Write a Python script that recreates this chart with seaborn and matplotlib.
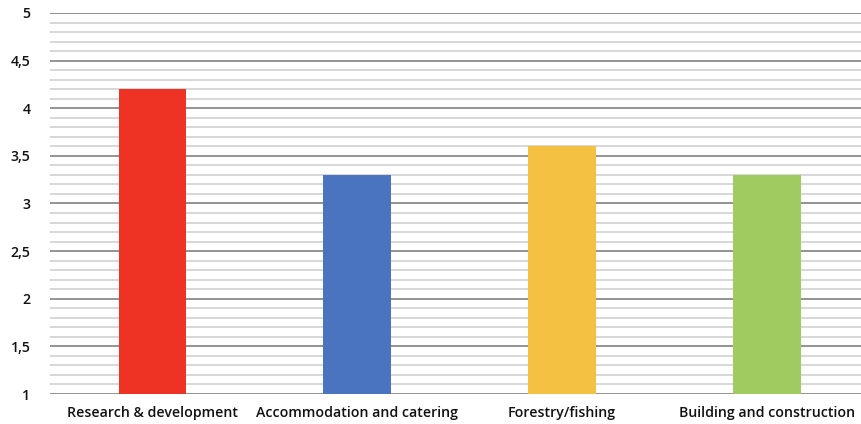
import matplotlib
matplotlib.use("Agg")
import matplotlib.pyplot as plt
from matplotlib.ticker import MultipleLocator, FuncFormatter
import seaborn as sns
import pandas as pd

categories = ["Research & development", "Accommodation and catering",
              "Forestry/fishing", "Building and construction"]
values = [4.2, 3.3, 3.6, 3.3]
colors = ["#EE3224", "#4A73C0", "#F5C142", "#A0CB61"]

sns.set_style("white")
plt.rcParams["font.family"] = ["Open Sans", "DejaVu Sans"]

df = pd.DataFrame({"category": categories, "value": values})

fig = plt.figure(figsize=(8.61, 4.24), dpi=100)
ax = fig.add_axes([50 / 861, 1 - 394 / 424, 811 / 861, 381 / 424])

sns.barplot(data=df, x="category", y="value", hue="category", palette=colors,
            width=0.33, saturation=1, legend=False, ax=ax, zorder=3,
            linewidth=0)
# bars start from the axis floor at 1
for patch, v in zip(ax.patches, values):
    patch.set_y(1)
    patch.set_height(v - 1)

ax.set_ylim(1, 5)
ax.set_xlim(-0.5, 3.46)
ax.yaxis.set_major_locator(MultipleLocator(0.5))
ax.yaxis.set_minor_locator(MultipleLocator(0.1))
ax.yaxis.set_major_formatter(FuncFormatter(lambda v, p: f"{v:g}".replace(".", ",")))
ax.grid(which="major", axis="y", color="#8a8a8a", linewidth=1.3, zorder=0)
ax.grid(which="minor", axis="y", color="#d4d4d4", linewidth=1.3, zorder=0)
ax.set_axisbelow(True)
for s in ax.spines.values():
    s.set_visible(False)
ax.tick_params(axis="both", which="both", length=0, labelcolor="#111111")
ax.tick_params(axis="y", pad=14, labelsize=10.2)
ax.tick_params(axis="x", pad=9, labelsize=10.2)
for lbl in ax.get_xticklabels() + ax.get_yticklabels():
    lbl.set_fontweight("semibold")
ax.set_xlabel("")
ax.set_ylabel("")

fig.savefig("out.png", dpi=100)
